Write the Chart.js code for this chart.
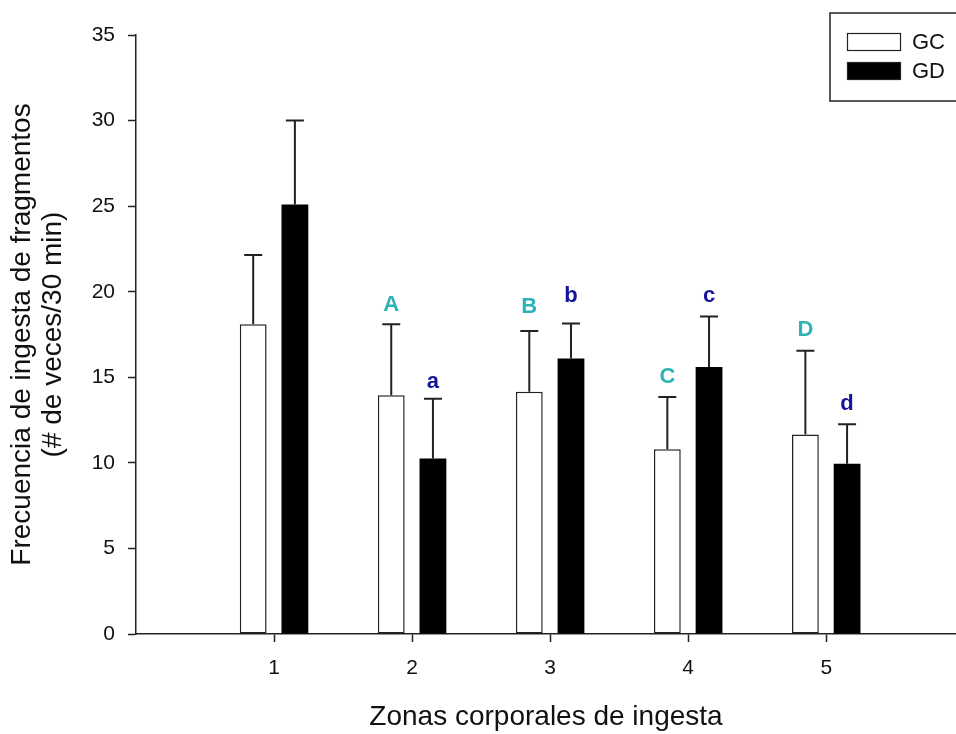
<!DOCTYPE html>
<html>
<head>
<meta charset="utf-8">
<script src="https://cdn.jsdelivr.net/npm/chart.js@4.4.1/dist/chart.umd.min.js"></script>
<style>
  body { margin: 0; background: #fff; }
  canvas { display: block; }
</style>
</head>
<body>
<canvas id="ingestaChart" width="956" height="734"></canvas>
<script>
// Datos
const zonas = [1, 2, 3, 4, 5];
const mediaGC = [18.1, 13.95, 14.15, 10.8, 11.65];
const mediaGD = [25.1, 10.25, 16.1, 15.6, 9.95];
const errorGC = [4.05, 4.15, 3.55, 3.05, 4.9];
const errorGD = [4.9, 3.5, 2.05, 2.95, 2.3];
const letraGC = ['', 'A', 'B', 'C', 'D'];
const letraGCy = [null, 18.9, 18.75, 14.65, 17.4];
const letraGD = ['', 'a', 'b', 'c', 'd'];
const letraGDy = [null, 14.4, 19.4, 19.4, 13.1];
const ticksY = [0, 5, 10, 15, 20, 25, 30, 35];

const fuente = "Arial, 'Liberation Sans', sans-serif";

// Barras de error (media + DE) y letras de significancia
const erroresPlugin = {
    id: 'errores',
    afterDatasetsDraw(chart) {
        const ctx = chart.ctx;
        const y = chart.scales.y;
        const series = [
            { err: errorGC, media: mediaGC, letras: letraGC, letrasY: letraGCy, color: '#2db3b6' },
            { err: errorGD, media: mediaGD, letras: letraGD, letrasY: letraGDy, color: '#14149c' }
        ];
        series.forEach((s, i) => {
            const meta = chart.getDatasetMeta(i);
            meta.data.forEach((bar, j) => {
                const yTop = y.getPixelForValue(s.media[j]);
                const yErr = y.getPixelForValue(s.media[j] + s.err[j]);
                ctx.save();
                ctx.strokeStyle = '#222';
                ctx.lineWidth = 2;
                ctx.beginPath();
                ctx.moveTo(bar.x, yTop);
                ctx.lineTo(bar.x, yErr);
                ctx.moveTo(bar.x - 9, yErr);
                ctx.lineTo(bar.x + 9, yErr);
                ctx.stroke();
                if (s.letras[j]) {
                    ctx.fillStyle = s.color;
                    ctx.font = 'bold 22px ' + fuente;
                    ctx.textAlign = 'center';
                    ctx.textBaseline = 'alphabetic';
                    ctx.fillText(s.letras[j], bar.x, y.getPixelForValue(s.letrasY[j]));
                }
                ctx.restore();
            });
        });
    }
};

// Leyenda con recuadro arriba a la derecha
const leyendaPlugin = {
    id: 'leyendaCaja',
    afterDraw(chart) {
        const ctx = chart.ctx;
        ctx.save();
        ctx.strokeStyle = '#222';
        ctx.lineWidth = 1.5;
        ctx.strokeRect(830, 13, 140, 88);
        chart.data.datasets.forEach((ds, i) => {
            const top = 33 + i * 29;
            ctx.fillStyle = ds.backgroundColor;
            ctx.fillRect(847, top, 54, 18);
            ctx.lineWidth = 1.2;
            ctx.strokeStyle = '#222';
            ctx.strokeRect(847.5, top + 0.5, 53, 17);
            ctx.fillStyle = '#111';
            ctx.font = '22px ' + fuente;
            ctx.textBaseline = 'middle';
            ctx.textAlign = 'left';
            ctx.fillText(ds.label, 912, top + 10);
        });
        ctx.restore();
    }
};

const ctx = document.getElementById('ingestaChart').getContext('2d');
const ingestaChart = new Chart(ctx, {
    type: 'bar',
    data: {
        datasets: [{
            label: 'GC',
            data: zonas.map((z, i) => ({ x: z, y: mediaGC[i] })),
            backgroundColor: '#ffffff',
            borderColor: '#222',
            borderWidth: 1.5,
            borderSkipped: false
        }, {
            label: 'GD',
            data: zonas.map((z, i) => ({ x: z, y: mediaGD[i] })),
            backgroundColor: '#000000',
            borderColor: '#000',
            borderWidth: 0
        }]
    },
    options: {
        responsive: false,
        animation: false,
        categoryPercentage: 0.604,
        barPercentage: 0.643,
        layout: { padding: { top: 35, right: 0, left: 0, bottom: 0 } },
        plugins: {
            legend: { display: false },
            tooltip: { enabled: false }
        },
        scales: {
            x: {
                type: 'linear',
                min: 0,
                max: 5.94,
                offset: false,
                afterBuildTicks: (scale) => { scale.ticks = zonas.map(v => ({ value: v })); },
                afterFit: (scale) => { scale.height = 100; },
                grid: { offset: false, drawOnChartArea: false, tickLength: 8, tickColor: '#222', tickWidth: 1.5 },
                border: { color: '#222', width: 1.5 },
                ticks: { color: '#111', font: { family: fuente, size: 21 }, padding: 14 },
                title: {
                    display: true,
                    text: 'Zonas corporales de ingesta',
                    color: '#111',
                    font: { family: fuente, size: 28, lineHeight: 1.1 },
                    padding: { top: 0, bottom: 1 }
                }
            },
            y: {
                min: 0,
                max: 35,
                afterBuildTicks: (scale) => { scale.ticks = ticksY.map(v => ({ value: v })); },
                afterFit: (scale) => { scale.width = 136; },
                grid: { drawOnChartArea: false, tickLength: 8, tickColor: '#222', tickWidth: 1.5 },
                border: { color: '#222', width: 1.5 },
                ticks: { color: '#111', font: { family: fuente, size: 21 }, padding: 13 },
                title: {
                    display: true,
                    text: ['Frecuencia de ingesta de fragmentos', '(# de veces/30 min)'],
                    color: '#111',
                    font: { family: fuente, size: 28, lineHeight: 1.1 },
                    padding: { top: 7, bottom: 0 }
                }
            }
        }
    },
    plugins: [erroresPlugin, leyendaPlugin]
});
</script>
</body>
</html>
